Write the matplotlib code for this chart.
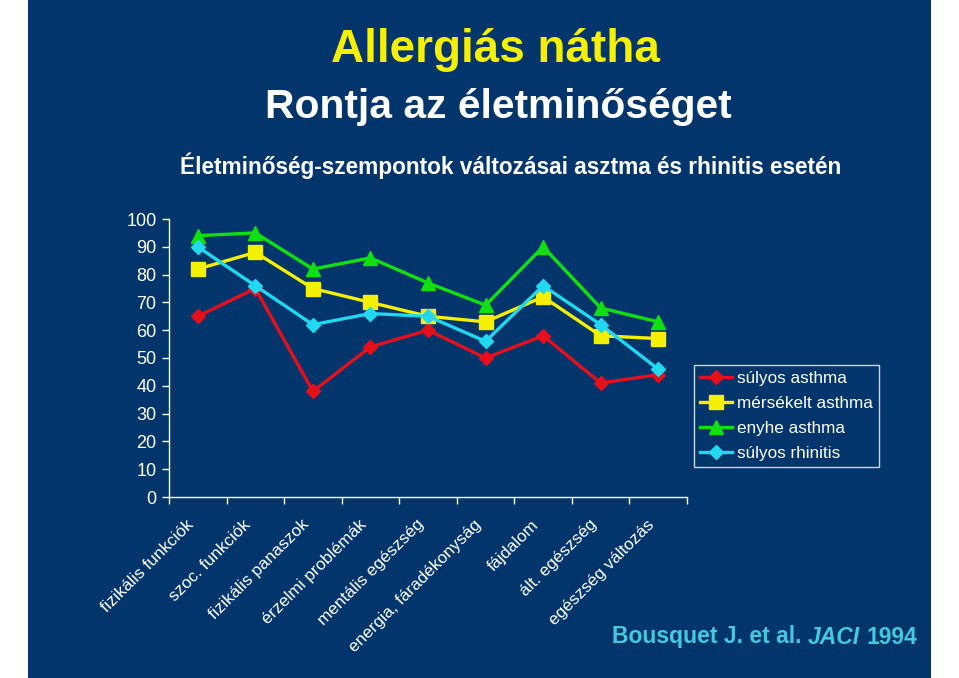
import matplotlib
matplotlib.use("Agg")
import matplotlib.pyplot as plt
from matplotlib.patches import Rectangle
from matplotlib.transforms import ScaledTranslation

categories = ["fizikális funkciók", "szoc. funkciók", "fizikális panaszok",
              "érzelmi problémák", "mentális egészség", "energia, fáradékonyság",
              "fájdalom", "ált. egészség", "egészség változás"]
sulyos_asthma = [65, 75, 38, 54, 60, 50, 58, 41, 44]
mersekelt_asthma = [82, 88, 75, 70, 65, 63, 72, 58, 57]
enyhe_asthma = [94, 95, 82, 86, 77, 69, 90, 68, 63]
sulyos_rhinitis = [90, 76, 62, 66, 65, 56, 76, 62, 46]
series_names = ["súlyos asthma", "mérsékelt asthma", "enyhe asthma", "súlyos rhinitis"]
yticks = [0, 10, 20, 30, 40, 50, 60, 70, 80, 90, 100]

NAVY = "#02356b"
plt.rcParams['font.family'] = ['Liberation Sans', 'DejaVu Sans']

fig = plt.figure(figsize=(9.59, 6.78), dpi=100)
fig.patch.set_facecolor("white")
fig.patches.append(Rectangle((28/959, 0), (931-28)/959, 1, transform=fig.transFigure,
                             facecolor=NAVY, edgecolor="none", zorder=-10))

ax = fig.add_axes([169/959, 1-497/678, (687-169)/959, (497-219)/678])
ax.set_zorder(2)
ax.set_facecolor("none")
x = list(range(len(categories)))
styles = [
    (sulyos_asthma, "#e5101c", "D", 7.5),
    (mersekelt_asthma, "#f5f000", "s", 9.5),
    (enyhe_asthma, "#10e010", "^", 10.5),
    (sulyos_rhinitis, "#22d8f0", "D", 7.5),
]
for (vals, col, mk, ms), name in zip(styles, series_names):
    ax.plot(x, vals, color=col, lw=2.4, marker=mk, markersize=ms,
            markerfacecolor=col, markeredgecolor=col, label=name, clip_on=False)

ax.set_xlim(-0.5, len(categories) - 0.5)
ax.set_ylim(0, 100)
ax.set_yticks(yticks)
ax.set_yticklabels([str(v) for v in yticks], color="white", fontsize=13)
ax.set_xticks(x)
ax.set_xticklabels([])
off = ScaledTranslation(-12/100, -20/100, fig.dpi_scale_trans)
for xi, cat in zip(x, categories):
    ax.text(xi, 0, cat, transform=ax.get_xaxis_transform() + off, rotation=45,
            ha="right", va="top", rotation_mode="anchor", color="white", fontsize=12.3)
ax.set_xticks([i - 0.5 for i in range(len(categories) + 1)], minor=True)
ax.tick_params(axis="x", which="major", length=0)
ax.tick_params(axis="x", which="minor", length=5, color="white", width=1)
ax.tick_params(axis="y", length=5, color="white", width=1, pad=4)
for s in ["top", "right"]:
    ax.spines[s].set_visible(False)
for s in ["left", "bottom"]:
    ax.spines[s].set_color("white")
    ax.spines[s].set_linewidth(1)

leg = ax.legend(loc="upper left", bbox_to_anchor=(694/959, 1-365/678),
                bbox_transform=fig.transFigure, frameon=True, fontsize=12.3,
                handlelength=1.9, handletextpad=0.3, labelspacing=0.6,
                borderpad=0.33, borderaxespad=0, fancybox=False)
leg.get_frame().set_facecolor(NAVY)
leg.get_frame().set_edgecolor("white")
leg.get_frame().set_linewidth(1)
for t in leg.get_texts():
    t.set_color("white")

fig.text(495/959, 1-50/678, "Allergiás nátha", color="#f5f000", fontsize=33,
         fontweight="bold", ha="center", va="center")
fig.text(498/959, 1-107/678, "Rontja az életminőséget", color="white", fontsize=29.3,
         fontweight="bold", ha="center", va="center")
fig.text(511/959, 1-166/678, "Életminőség-szempontok változásai asztma és rhinitis esetén",
         color="white", fontsize=16.3, fontweight="bold", ha="center", va="center")

cite_col = "#45c8e0"
t1 = fig.text(612/959, 1-637/678, "Bousquet J. et al. ", color=cite_col, fontsize=16.5,
              fontweight="bold", ha="left", va="center")
fig.canvas.draw()
bb = t1.get_window_extent()
t2 = fig.text(bb.x1/959, 1-637/678, "JACI", color=cite_col, fontsize=16.5,
              fontweight="bold", style="italic", ha="left", va="center")
fig.canvas.draw()
bb2 = t2.get_window_extent()
fig.text(bb2.x1/959 + 6/959, 1-637/678, "1994", color=cite_col, fontsize=16.5,
         fontweight="bold", ha="left", va="center")

fig.savefig("out.png", dpi=100, facecolor=fig.get_facecolor())
